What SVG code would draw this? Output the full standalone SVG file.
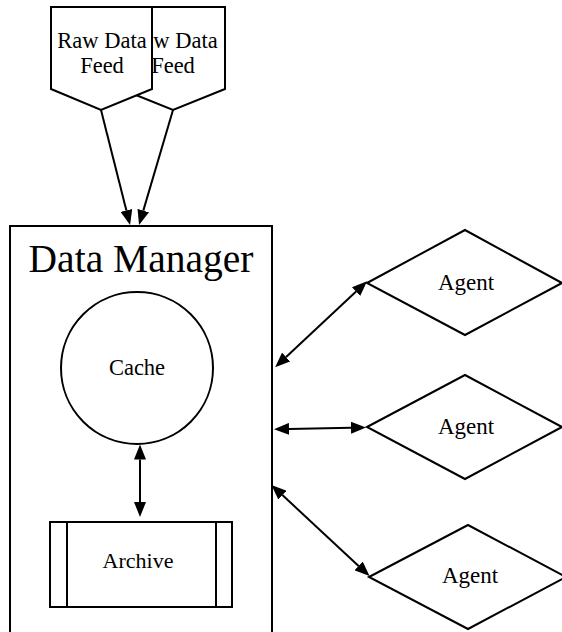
<svg xmlns="http://www.w3.org/2000/svg" width="562" height="632" viewBox="0 0 562 632">
  <style>
    .shape { fill: #ffffff; stroke: #000000; stroke-width: 2; }
    .label { fill: #000000; text-anchor: middle; font-family: "Liberation Serif", "Times New Roman", serif; }
    .edge { stroke: #000000; stroke-width: 2; fill: none; }
  </style>
  <defs>
    <marker id="arrow" markerUnits="userSpaceOnUse" markerWidth="16" markerHeight="12" refX="0" refY="6" orient="auto-start-reverse">
      <path d="M0,0 L15,6 L0,12 Z" fill="#000000"/>
    </marker>
    <!-- the rear feed's label shows only to the right of the front feed -->
    <clipPath id="rearClip">
      <rect x="153" y="8" width="71" height="80"/>
    </clipPath>
  </defs>

  <rect width="562" height="632" fill="#ffffff"/>

  <!-- rear data feed -->
  <g id="feed2">
    <polygon class="shape" points="121,7 225,7 225,89 173,110 121,89"/>
    <g clip-path="url(#rearClip)">
      <text class="label" x="173" y="48" font-size="22.5">Raw Data</text>
      <text class="label" x="173" y="73" font-size="22.5">Feed</text>
    </g>
  </g>

  <!-- front data feed -->
  <g id="feed1">
    <polygon class="shape" points="51,7 152,7 152,89 101,110 51,89"/>
    <text class="label" x="102" y="48" font-size="22.5">Raw Data</text>
    <text class="label" x="102" y="73" font-size="22.5">Feed</text>
  </g>

  <!-- container -->
  <g id="manager">
    <rect class="shape" x="10" y="226" width="262" height="420"/>
    <text class="label" x="141" y="272" font-size="39.5">Data Manager</text>
  </g>

  <g id="cache">
    <circle class="shape" cx="137" cy="368" r="76"/>
    <text class="label" x="137" y="375" font-size="22.5">Cache</text>
  </g>

  <g id="archive">
    <rect class="shape" x="50" y="522" width="182" height="85"/>
    <line class="edge" x1="67" y1="522" x2="67" y2="607"/>
    <line class="edge" x1="216" y1="522" x2="216" y2="607"/>
    <text class="label" x="138" y="568" font-size="22">Archive</text>
  </g>

  <g id="agent1">
    <polygon class="shape" points="367,283 465,230 562,283 465,335"/>
    <text class="label" x="466" y="290" font-size="23">Agent</text>
  </g>
  <g id="agent2">
    <polygon class="shape" points="367,427 465,375 562,427 465,479"/>
    <text class="label" x="466" y="434" font-size="23">Agent</text>
  </g>
  <g id="agent3">
    <polygon class="shape" points="369,577 468,525 566,577 468,629"/>
    <text class="label" x="470" y="583" font-size="23">Agent</text>
  </g>

  <!-- connectors: lines stop at the arrow base, markers carry the tips -->
  <g id="edges">
    <line class="edge" x1="101" y1="110" x2="126.4" y2="210.5" marker-end="url(#arrow)"/>
    <line class="edge" x1="173" y1="110" x2="143.3" y2="210.6" marker-end="url(#arrow)"/>
    <line class="edge" x1="140" y1="459.5" x2="140" y2="502" marker-start="url(#arrow)" marker-end="url(#arrow)"/>
    <line class="edge" x1="286.1" y1="357" x2="356.1" y2="291.6" marker-start="url(#arrow)" marker-end="url(#arrow)"/>
    <line class="edge" x1="289" y1="428.9" x2="351" y2="427.7" marker-start="url(#arrow)" marker-end="url(#arrow)"/>
    <line class="edge" x1="282.4" y1="495.1" x2="358.6" y2="565.9" marker-start="url(#arrow)" marker-end="url(#arrow)"/>
  </g>
</svg>
